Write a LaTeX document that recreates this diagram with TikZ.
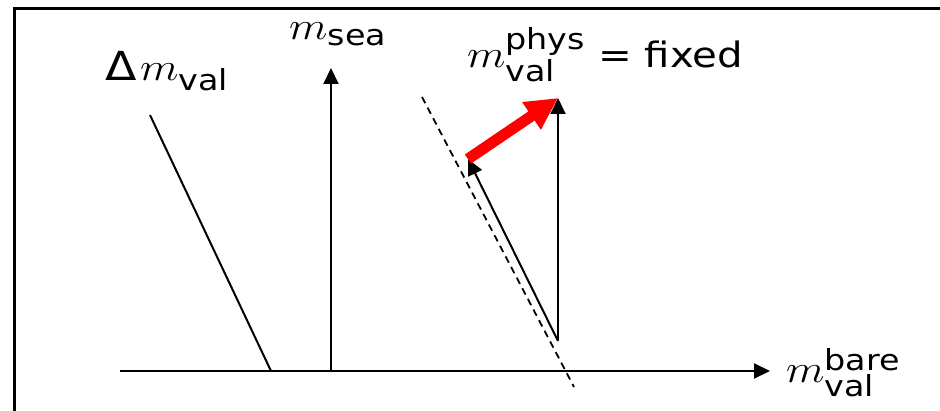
\RequirePackage{fix-cm}
\documentclass[tikz,border=0pt]{standalone}
\usepackage{amsmath}
\usepackage{fontspec}
\setmainfont{DejaVu Sans}
\DeclareMathSizes{35}{35}{29}{22}
\usetikzlibrary{arrows.meta, positioning}

\newcommand{\mm}{\mbox{\fontsize{39}{45}\selectfont$m$}}

\tikzset{
  line/.style={line width=2pt},
  axis/.style={line width=2pt, -{Triangle[length=16pt,width=15pt]}},
  redshift/.style={line width=11pt, red, -{Triangle[length=32pt,width=31pt]}},
  lbl/.style={inner sep=0pt, xscale=1.15, transform shape,
    font=\fontsize{35}{42}\selectfont},
}

\begin{document}
\begin{tikzpicture}[x=1pt,y=-1pt]
  \useasboundingbox (0,0) rectangle (940,411);
  % frame
  \draw[line width=3pt] (14,411) -- (14,8.5) -- (940,8.5);
  % axes
  \coordinate (orig) at (120,371);
  \coordinate (xend) at (770,371);
  \coordinate (seabot) at (331,371);
  \coordinate (seatop) at (331,68);
  \draw[axis] (orig) -- (xend);
  \draw[axis] (seabot) -- (seatop);
  \node[lbl, anchor=base west] (bare) at (786,383) {$\mm_{\text{val}}^{\text{bare}}$};
  \node[lbl, anchor=base west] (sea) at (289,40) {$\mm_{\text{sea}}$};
  % Delta m_val line
  \coordinate (dtop) at (150,115);
  \coordinate (dbot) at (271,371);
  \draw[line] (dtop) -- (dbot);
  \node[lbl, anchor=base west] (dval) at (105,81) {{\fontsize{40}{45}\selectfont Δ}\hspace{3pt}$\mm_{\text{val}}$};
  % constant physical mass line
  \coordinate (dashtop) at (422,97);
  \coordinate (dashbot) at (574,387);
  \draw[line width=1.8pt, dash pattern=on 7pt off 5pt] (dashtop) -- (dashbot);
  % shifts
  \coordinate (start) at (558,341);
  \coordinate (slant) at (468,159);
  \coordinate (target) at (558,98);
  \draw[axis] (start) -- (slant);
  \draw[axis] (start) -- (target);
  \draw[redshift] (slant) -- (target);
  \node[lbl, anchor=base west] (phys) at (467,68) {$\mm_{\text{val}}^{\text{phys}}$ = fixed};
\end{tikzpicture}
\end{document}
